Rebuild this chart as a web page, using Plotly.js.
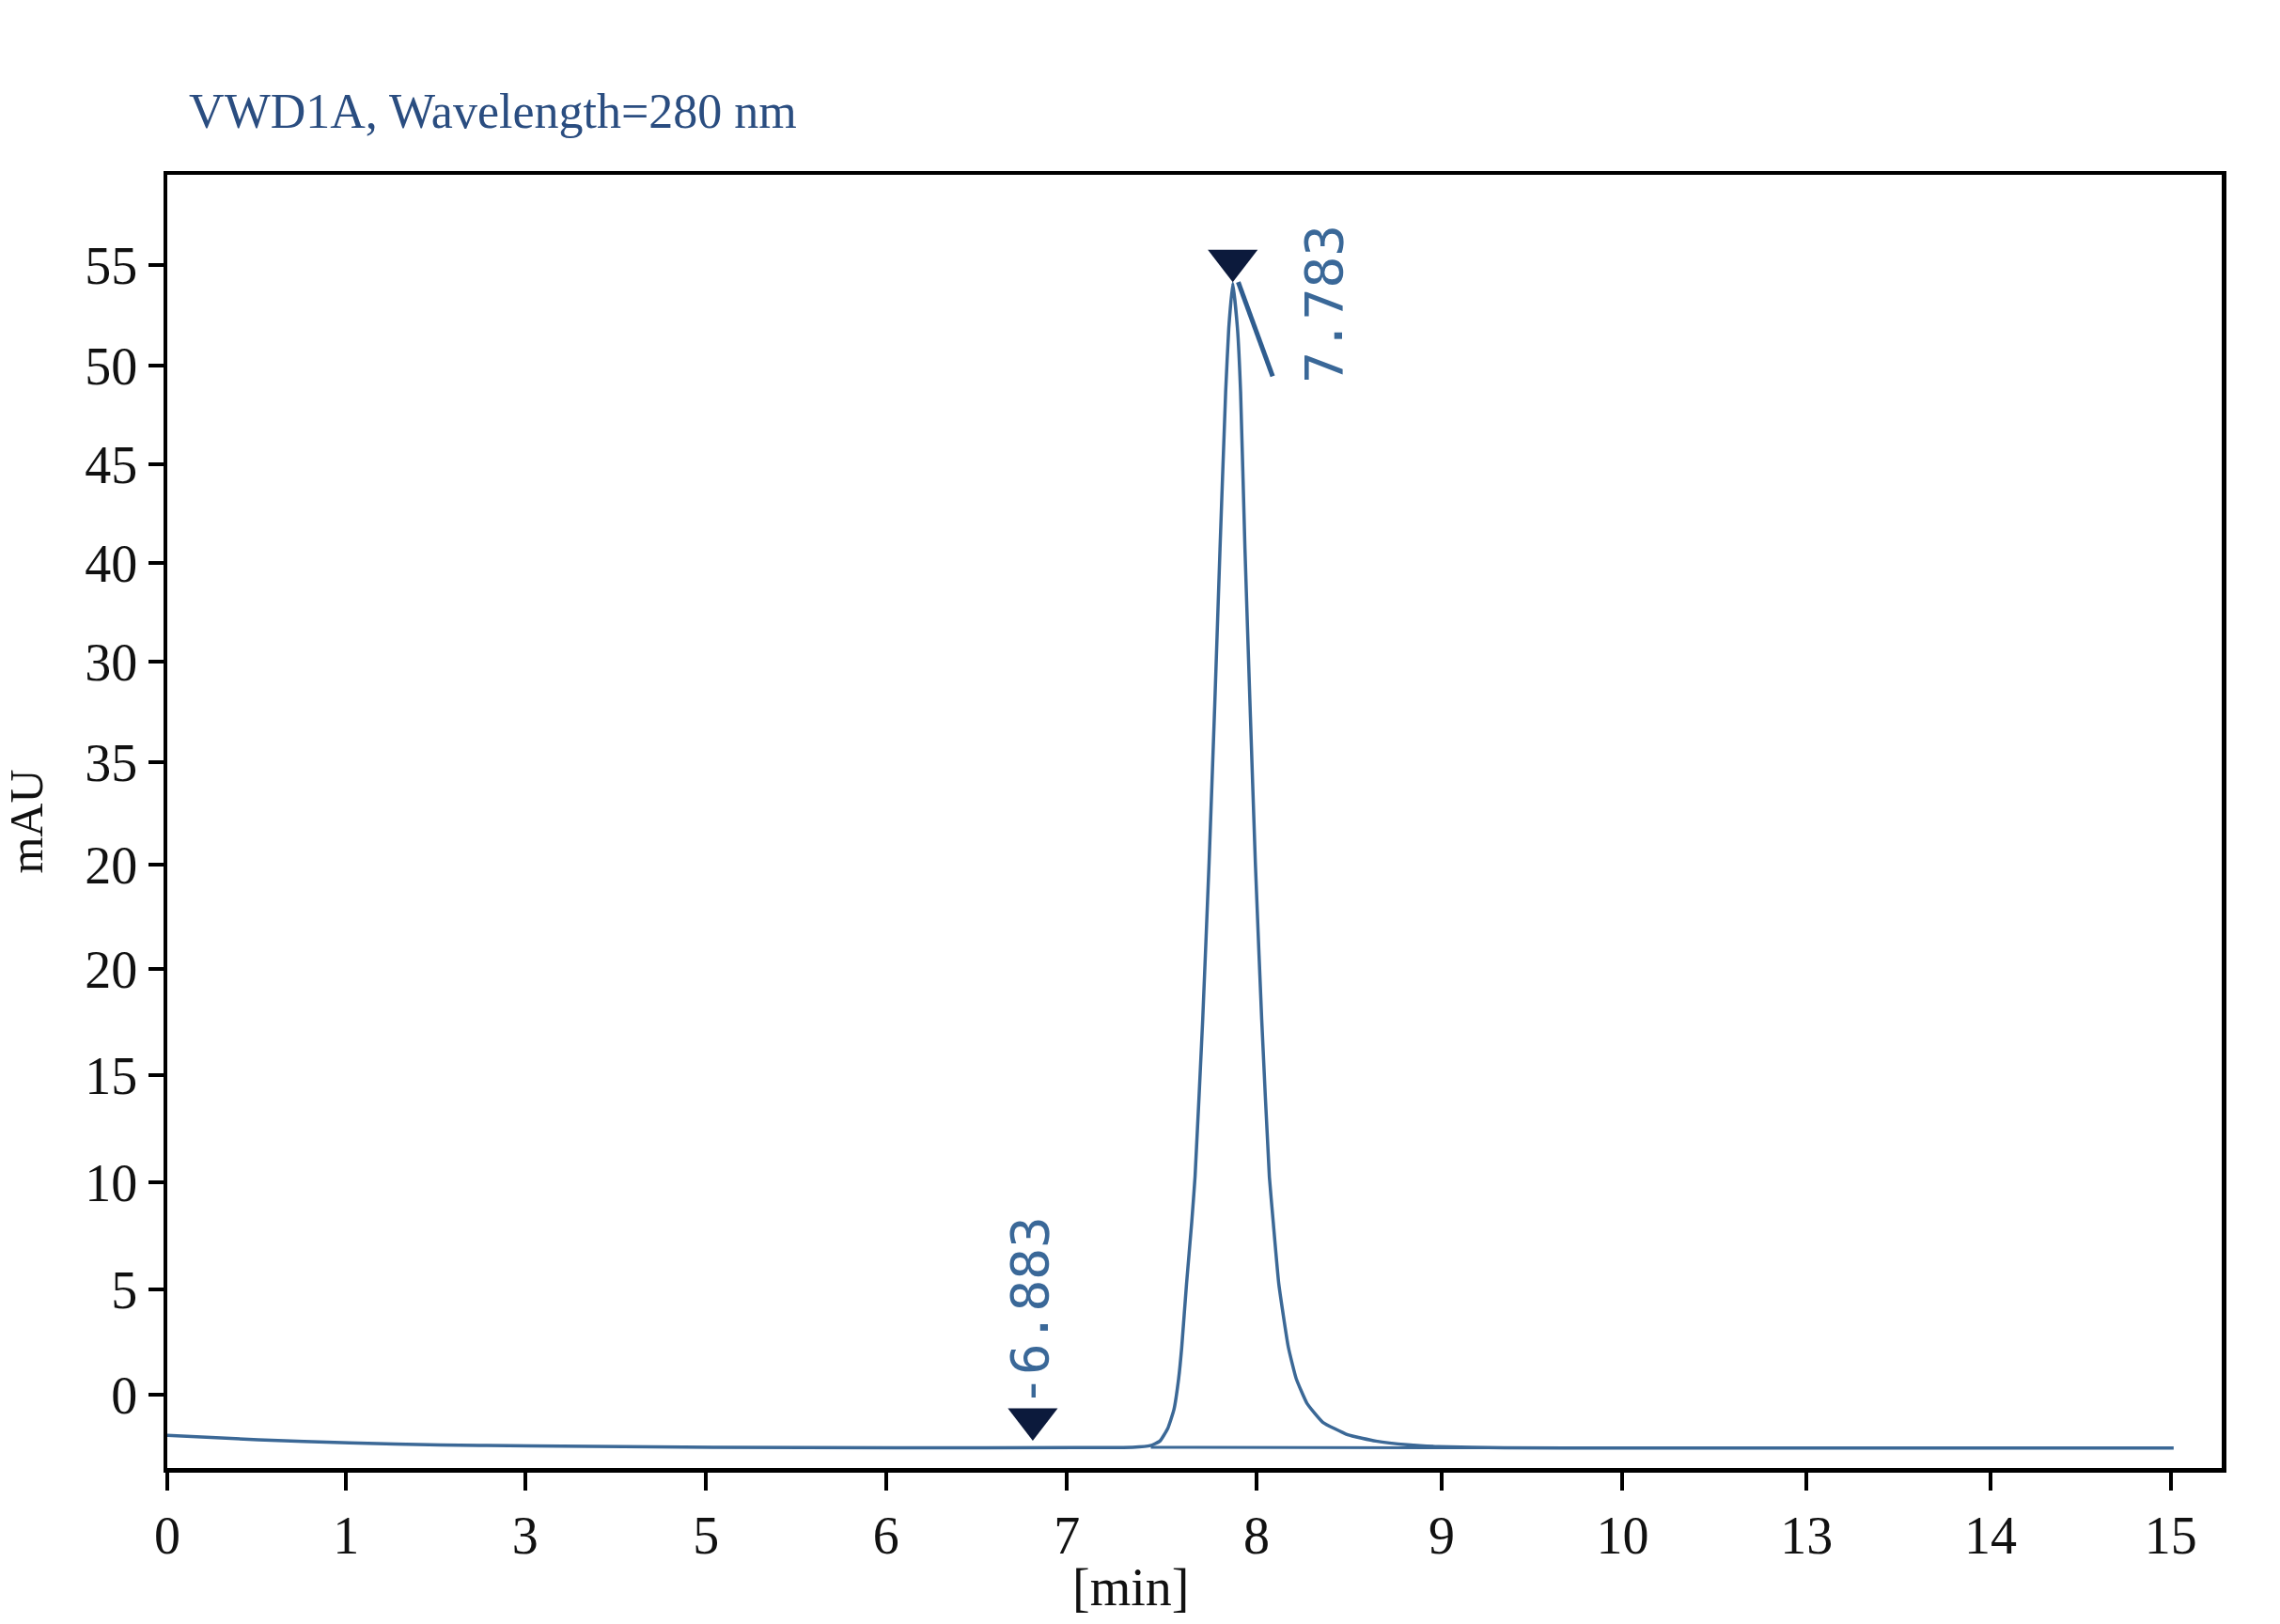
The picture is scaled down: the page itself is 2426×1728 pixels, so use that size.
<!DOCTYPE html>
<html>
<head>
<meta charset="utf-8">
<script src="https://cdn.plot.ly/plotly-3.0.1.min.js"></script>
<style>
  html, body { margin: 0; padding: 0; background: #ffffff; }
  #chart { width: 2426px; height: 1728px; }
</style>
</head>
<body>
<div id="chart"></div>
<script>
// x is in tick-step units (one step per printed label), y in mAU
var signalX = [0, 0.5, 1, 1.5, 2, 3, 4, 5, 5.3, 5.398, 5.45, 5.493, 5.527, 5.553, 5.57, 5.596, 5.625, 5.643, 5.685, 5.72, 5.751, 5.78,
               5.811, 5.828, 5.85, 5.876, 5.893, 5.917, 5.945, 5.974, 6.009, 6.051, 6.072, 6.103, 6.155, 6.198, 6.258, 6.344,
               6.481, 6.636, 6.808, 6.98, 7.341, 8, 9, 10, 11.016];
var signalY = [-1.98, -2.2, -2.35, -2.45, -2.5, -2.56, -2.59, -2.58, -2.56, -2.48, -2.26, -1.65, -0.73, 0.79, 2.32, 5.37, 8.42, 10.61, 18.25, 25.89, 33.53, 41.17,
               48.81, 51.88, 54.1, 51.88, 48.81, 41.17, 33.53, 25.89, 18.25, 10.61, 8.42, 5.37, 2.32, 0.79, -0.43, -1.34,
               -1.95, -2.26, -2.44, -2.53, -2.59, -2.6, -2.6, -2.6, -2.6];

var baseX = [5.4, 7.34];
var baseY = [-2.56, -2.59];

var tailX = [5.88, 6.069];
var tailY = [54.16, 49.57];

var peakX = [5.85, 4.752];
var peakY = [55.2, -1.19];
var peakLabels = ['7.783', '-6.883'];
var labelX = [6.345, 4.736];
var labelY = [53.11, 4.03];

var xTickPos = [0, 0.982, 1.965, 2.958, 3.946, 4.94, 5.98, 6.997, 7.99, 9.0, 10.01, 11.0];
var xTickText = ['0', '1', '3', '5', '6', '7', '8', '9', '10', '13', '14', '15'];
var yTickPos = [0, 5.12, 10.34, 15.55, 20.72, 25.8, 30.79, 35.68, 40.48, 45.29, 50.09, 54.99];
var yTickText = ['0', '5', '10', '15', '20', '20', '35', '30', '40', '45', '50', '55'];

var lineColor = '#3b6896';

var data = [
  {x: signalX, y: signalY, type: 'scatter', mode: 'lines',
   line: {color: lineColor, width: 3.5, shape: 'spline', smoothing: 0.4}, hoverinfo: 'none'},
  {x: baseX, y: baseY, type: 'scatter', mode: 'lines',
   line: {color: lineColor, width: 3}, hoverinfo: 'none'},
  {x: tailX, y: tailY, type: 'scatter', mode: 'lines',
   line: {color: '#2f5d8f', width: 5}, hoverinfo: 'none'},
  {x: peakX, y: peakY, type: 'scatter', mode: 'markers',
   marker: {symbol: 'triangle-down', size: 46, color: '#0c1a3c'}, hoverinfo: 'none'}
];

var annotations = [];
for (var i = 0; i < peakLabels.length; i++) {
  annotations.push({
    x: labelX[i], y: labelY[i], xref: 'x', yref: 'y',
    text: peakLabels[i], showarrow: false, textangle: -90,
    xanchor: 'center', yanchor: 'middle',
    font: {family: 'DejaVu Sans Mono', size: 56, color: '#3a6898'}
  });
}
annotations.push({
  x: 0.469, y: -0.092, xref: 'paper', yref: 'paper',
  text: '[min]', showarrow: false, xanchor: 'center', yanchor: 'middle',
  font: {family: 'Liberation Serif', size: 56, color: '#111111'}
});

var layout = {
  width: 2426, height: 1728,
  margin: {l: 178, r: 62, t: 186, b: 166},
  paper_bgcolor: '#ffffff', plot_bgcolor: '#ffffff',
  showlegend: false,
  font: {family: 'Liberation Serif', color: '#111111'},
  title: {
    text: 'VWD1A, Wavelength=280 nm',
    x: 0.0829, xanchor: 'left', xref: 'container',
    y: 0.9317, yanchor: 'middle', yref: 'container',
    font: {family: 'Liberation Serif', size: 52, color: '#2a4d80'}
  },
  xaxis: {
    range: [0, 11.28], showgrid: false, zeroline: false,
    showline: true, mirror: true, linecolor: '#000000', linewidth: 4.5,
    ticks: 'outside', ticklen: 19, tickwidth: 4, tickcolor: '#000000',
    tickmode: 'array', tickvals: xTickPos, ticktext: xTickText,
    tickfont: {family: 'Liberation Serif', size: 56, color: '#111111'}
  },
  yaxis: {
    range: [-3.57, 59.38], showgrid: false, zeroline: false,
    showline: true, mirror: true, linecolor: '#000000', linewidth: 4.5,
    ticks: 'outside', ticklen: 16, tickwidth: 4, tickcolor: '#000000',
    tickmode: 'array', tickvals: yTickPos, ticktext: yTickText,
    tickfont: {family: 'Liberation Serif', size: 56, color: '#111111'},
    title: {text: 'mAU', standoff: 30, font: {family: 'Liberation Serif', size: 50, color: '#111111'}}
  },
  annotations: annotations
};

Plotly.newPlot('chart', data, layout, {displayModeBar: false, staticPlot: true});
</script>
</body>
</html>
